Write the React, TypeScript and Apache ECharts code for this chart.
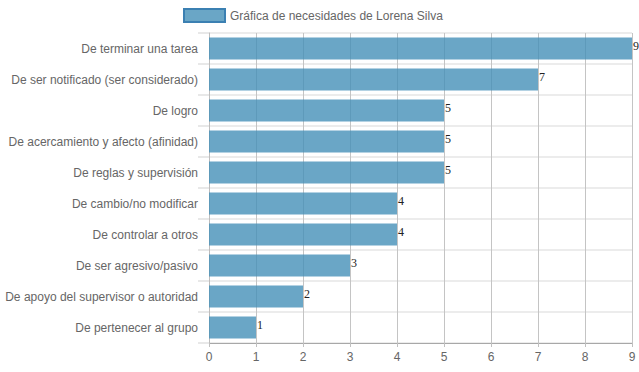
import React, { useEffect, useRef } from "react";
import * as echarts from "echarts";

const categories = [
  "De terminar una tarea",
  "De ser notificado (ser considerado)",
  "De logro",
  "De acercamiento y afecto (afinidad)",
  "De reglas y supervisión",
  "De cambio/no modificar",
  "De controlar a otros",
  "De ser agresivo/pasivo",
  "De apoyo del supervisor o autoridad",
  "De pertenecer al grupo",
];
const values = [9, 7, 5, 5, 5, 4, 4, 3, 2, 1];
const seriesName = "Gráfica de necesidades de Lorena Silva";

export default function App() {
  const ref = useRef<HTMLDivElement>(null);
  useEffect(() => {
    const chart = echarts.init(ref.current!, undefined, { renderer: "svg" });
    chart.setOption({
      animation: false,
      textStyle: { fontFamily: "Liberation Sans, Arial, sans-serif" },
      legend: {
        top: 3,
        left: 178,
        itemWidth: 41,
        itemHeight: 13,
        itemGap: 6,
        icon: "rect",
        itemStyle: { borderColor: "#3b80b2", borderWidth: 2 },
        textStyle: { color: "#666", fontSize: 12, fontFamily: "Liberation Sans, Arial, sans-serif" },
        data: [seriesName],
      },
      grid: { left: 209, right: 7, top: 33, bottom: 29, containLabel: false },
      xAxis: {
        type: "value",
        min: 0,
        max: 9,
        interval: 1,
        axisLine: { show: true, lineStyle: { color: "#a8a8a8" } },
        axisTick: { show: true, length: 4, lineStyle: { color: "#c0c0c0" } },
        splitLine: { show: true, lineStyle: { color: "#c4c4c4" } },
        axisLabel: { color: "#666", fontSize: 12, margin: 8, fontFamily: "Liberation Sans, Arial, sans-serif" },
      },
      yAxis: {
        type: "category",
        data: categories,
        inverse: true,
        axisLine: { show: true, lineStyle: { color: "#bdbdbd" } },
        axisTick: { show: true, length: 11, lineStyle: { color: "#e8e8e8", width: 2 } },
        splitLine: { show: true, lineStyle: { color: "#ececec", width: 2 } },
        axisLabel: { color: "#666", fontSize: 12, margin: 11, fontFamily: "Liberation Sans, Arial, sans-serif" },
      },
      series: [
        {
          name: seriesName,
          type: "bar",
          data: values,
          barWidth: 22,
          itemStyle: { color: "rgba(69,144,184,0.8)" },
          label: {
            show: true,
            position: "right",
            distance: 1,
            offset: [0, -3],
            color: "#222",
            fontSize: 12,
            fontFamily: "Liberation Serif, DejaVu Serif, serif",
          },
        },
      ],
    });
    return () => chart.dispose();
  }, []);
  return <div ref={ref} style={{ width: 639, height: 372, position: "absolute", left: 0, top: 0 }} />;
}
